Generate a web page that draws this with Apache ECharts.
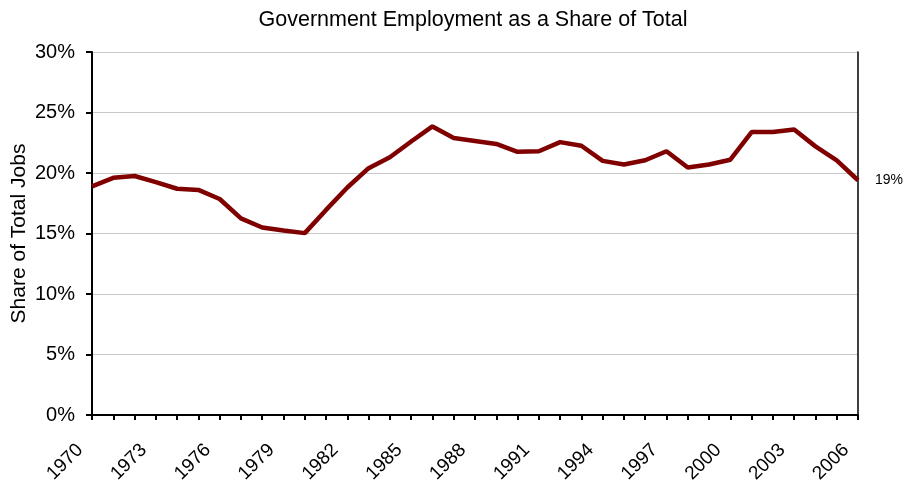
<!DOCTYPE html>
<html><head><meta charset="utf-8">
<script src="https://cdn.jsdelivr.net/npm/echarts@6/dist/echarts.min.js"></script>
<style>html,body{margin:0;padding:0;background:#fff}#c{width:913px;height:484px}</style>
</head><body><div id="c"></div>
<script>
const years = [];
for (let y = 1970; y <= 2006; y++) years.push(String(y));
const share = [18.9, 19.6, 19.75, 19.25, 18.7, 18.6, 17.85, 16.25, 15.5, 15.25, 15.03,
  16.95, 18.8, 20.4, 21.3, 22.6, 23.85, 22.9, 22.65, 22.4, 21.75, 21.8, 22.55, 22.25,
  21.0, 20.7, 21.05, 21.8, 20.45, 20.7, 21.1, 23.38, 23.38, 23.6, 22.2, 21.05, 19.4];
const yTicks = [0, 5, 10, 15, 20, 25, 30];
const endText = '19%';
const font = 'Liberation Sans, Arial, sans-serif';
const chart = echarts.init(document.getElementById('c'));
chart.setOption({
  animation: false,
  title: {text: 'Government Employment as a Share of Total', left: 468, textAlign: 'center', top: 4,
    textStyle: {fontFamily: font, fontSize: 21.5, fontWeight: 'normal', color: '#000'}},
  grid: {left: 92, right: 55, top: 52, bottom: 69, outerBoundsMode: 'none', containLabel: false},
  xAxis: {type: 'category', data: years, boundaryGap: false,
    axisLine: {lineStyle: {color: '#000', width: 2}},
    axisTick: {show: true, interval: 0, length: 5, lineStyle: {color: '#000', width: 2}},
    axisLabel: {interval: 2, rotate: 45, margin: 20, padding: [0, 17, 0, 0], fontFamily: font, fontSize: 19, color: '#000'},
    splitLine: {show: false}},
  yAxis: [{type: 'value', min: yTicks[0], max: yTicks[yTicks.length - 1], interval: 5,
    name: 'Share of Total Jobs', nameLocation: 'middle', nameGap: 62, nameMoveOverlap: false,
    nameTextStyle: {fontFamily: font, fontSize: 21, color: '#000'},
    axisLine: {show: true, lineStyle: {color: '#000', width: 2}},
    axisTick: {show: true, length: 6, lineStyle: {color: '#000', width: 2}},
    axisLabel: {formatter: '{value}%', margin: 17, fontFamily: font, fontSize: 20, color: '#000'},
    splitLine: {lineStyle: {color: '#c8c8c8', width: 1}}},
    {type: 'value', min: yTicks[0], max: yTicks[yTicks.length - 1], interval: 5, position: 'right',
    axisLine: {show: true, lineStyle: {color: '#000', width: 1.5}},
    axisTick: {show: false}, axisLabel: {show: false}, splitLine: {show: false}}],
  series: [{type: 'line', data: share, symbol: 'none',
    lineStyle: {color: '#800000', width: 4.5},
    endLabel: {show: true, formatter: endText, distance: 17, fontFamily: font, fontSize: 14, color: '#000'}}]
});
</script></body></html>
